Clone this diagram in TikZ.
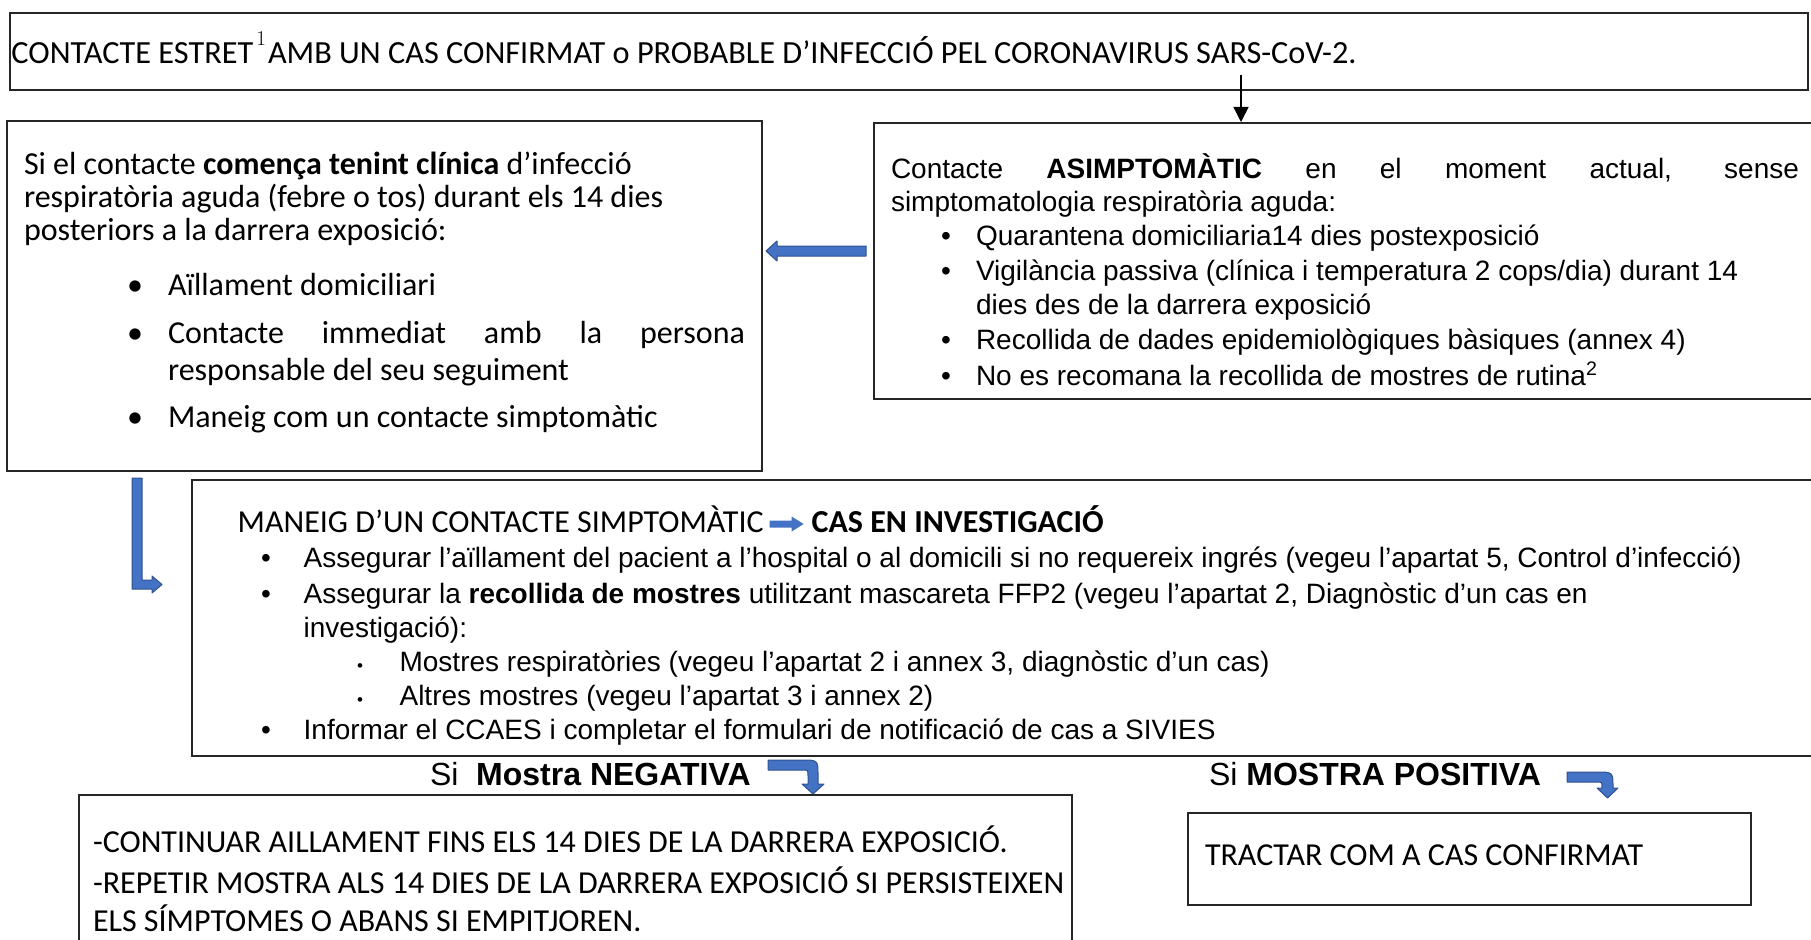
\documentclass[tikz,border=0pt]{standalone}
\usepackage{fontspec}
\newfontfamily\calib{Carlito}
\newfontfamily\arial{Liberation Sans}
\usetikzlibrary{arrows.meta,calc}
\definecolor{bfill}{RGB}{68,114,196}
\definecolor{bline}{RGB}{47,82,143}
\tikzset{
  box/.style={draw=black!85, line width=1.8pt, rectangle, inner sep=0pt, anchor=north west},
  txt/.style={anchor=base west, inner sep=0pt, outer sep=0pt},
  cb/.style={txt, font=\calib\fontsize{32}{38}\selectfont},
  ct/.style={txt, font=\calib\fontsize{32.3}{38}\selectfont},
  ab/.style={txt, font=\arial\fontsize{28}{32}\selectfont},
  al/.style={txt, font=\arial\fontsize{32}{36}\selectfont},
  blk/.style={fill=bfill, draw=bline, line width=1pt, line join=round},
}
\begin{document}
\begin{tikzpicture}[x=1pt,y=-1pt]
\useasboundingbox (0,0) rectangle (1811,939);
% boxes
\node[box, minimum width=1798pt, minimum height=77pt] (top) at (9,12) {};
\node[box, minimum width=755pt, minimum height=350pt] (left) at (6,120) {};
\node[box, minimum width=942pt, minimum height=276pt] (right) at (873,122) {};
\node[box, minimum width=1624pt, minimum height=276pt] (mid) at (191,479) {};
\node[box, minimum width=993pt, minimum height=160pt] (neg) at (78,794) {};
\node[box, minimum width=563pt, minimum height=92pt] (pos) at (1187,812) {};
% top text
\node[ct] (t1) at (11.5,64) {CONTACTE ESTRET\kern3pt\raisebox{18pt}{\rmfamily\fontsize{21}{21}\selectfont 1}\kern2pt AMB UN CAS CONFIRMAT o PROBABLE D’INFECCIÓ PEL CORONAVIRUS SARS-CoV-2.};
% connector top -> right
\coordinate (a0) at (1241,75);
\draw[line width=1.5pt, -{Triangle[width=15pt,length=15pt]}] (a0) -- (a0 |- right.north);
% left box text
\node[cb] (l1) at (24,174) {Si el contacte \textbf{comença tenint clínica} d’infecció};
\node[cb] (l2) at (24,207.5) {respiratòria aguda (febre o tos) durant els 14 dies};
\node[cb] (l3) at (24,240) {posteriors a la darrera exposició:};
\node[cb] (lb1) at (127,295.5) {\textbullet};
\node[cb] (lb2) at (127,343.5) {\textbullet};
\node[cb] (lb3) at (127,427.5) {\textbullet};
\node[cb] (l4) at (168,295.5) {Aïllament domiciliari};
\node[cb] (l5) at (168,343.5) {\makebox[577pt][s]{Contacte immediat amb la persona}};
\node[cb] (l6) at (168,380) {responsable del seu seguiment};
\node[cb] (l7) at (168,427.5) {Maneig com un contacte simptomàtic};
% right box text
\node[ab] (r1) at (891,178) {\makebox[908pt][s]{Contacte \textbf{ASIMPTOMÀTIC} en el moment actual, sense}};
\node[ab] (r2) at (891,211) {simptomatologia respiratòria aguda:};
\foreach \yy/\nm in {245/rb1,280/rb2,349/rb3,385/rb4} {\node[ab] (\nm) at (941,\yy) {•};}
\node[ab] (r3) at (976,245) {Quarantena domiciliaria14 dies postexposició};
\node[ab] (r4) at (976,280) {Vigilància passiva (clínica i temperatura 2 cops/dia) durant 14};
\node[ab] (r5) at (976,314) {dies des de la darrera exposició};
\node[ab] (r6) at (976,349) {Recollida de dades epidemiològiques bàsiques (annex 4)};
\node[ab] (r7) at (976,385) {No es recomana la recollida de mostres de rutina\textsuperscript{2}};
% blue arrow right -> left
\draw[blk] (766,251) -- (777,241) -- (777,246) -- (866,246) -- (866,256) -- (777,256) -- (777,261) -- cycle;
% L arrow left -> mid
\draw[blk] (132,478) -- (142,478) -- (142,580) -- (152,580) -- (152,576) -- (162,584.5) -- (152,593) -- (152,589) -- (132,589) -- cycle;
% middle box text
\node[cb] (m1) at (237.7,532) {MANEIG D’UN CONTACTE SIMPTOMÀTIC};
\coordinate (ia) at ($(m1.base east)+(6,-8)$);
\fill[bfill] (ia) ++(0,-3.5) -- ++(22,0) -- ++(0,-4) -- ++(12,7.5) -- ++(-12,7.5) -- ++(0,-4) -- ++(-22,0) -- cycle;
\node[cb] (m2) at ($(m1.base east)+(48,0)$) {\textbf{CAS EN INVESTIGACIÓ}};
\foreach \yy/\nm in {567/mb1,603/mb2,739/mb3} {\node[ab] (\nm) at (261,\yy) {•};}
\node[ab] (m3) at (303.7,567) {Assegurar l’aïllament del pacient a l’hospital o al domicili si no requereix ingrés (vegeu l’apartat 5, Control d’infecció)};
\node[ab] (m4) at (303.7,603) {Assegurar la \textbf{recollida de mostres} utilitzant mascareta FFP2 (vegeu l’apartat 2, Diagnòstic d’un cas en};
\node[ab] (m5) at (303.7,637) {investigació):};
\node[ab, font=\arial\fontsize{17}{20}\selectfont] (ms1) at (357,671) {•};
\node[ab, font=\arial\fontsize{17}{20}\selectfont] (ms2) at (357,705) {•};
\node[ab] (m6) at (399.6,671) {Mostres respiratòries (vegeu l’apartat 2 i annex 3, diagnòstic d’un cas)};
\node[ab] (m7) at (399.6,705) {Altres mostres (vegeu l’apartat 3 i annex 2)};
\node[ab] (m8) at (303.7,739) {Informar el CCAES i completar el formulari de notificació de cas a SIVIES};
% labels
\node[al] (sn) at (430,785) {Si \ \textbf{Mostra NEGATIVA}};
\node[al] (sp) at (1209,785) {Si \textbf{MOSTRA POSITIVA}};
% bent arrows
\draw[blk] (768,760) -- (802,760) .. controls (818,760) .. (818,776) -- (818,784) -- (824,784) -- (813,794) -- (802,784) -- (808,784) -- (808,776) .. controls (808,770) .. (802,770) -- (768,770) -- cycle;
\draw[blk] (1567,772) -- (1597,772) .. controls (1613,772) .. (1613,788) -- (1618,788) -- (1607.5,798) -- (1597,788) -- (1602,788) .. controls (1602,782) .. (1597,782) -- (1567,782) -- cycle;
% negative text
\node[cb] (n1) at (93,852) {-CONTINUAR AILLAMENT FINS ELS 14 DIES DE LA DARRERA EXPOSICIÓ.};
\node[cb] (n2) at (93,893) {-REPETIR MOSTRA ALS 14 DIES DE LA DARRERA EXPOSICIÓ SI PERSISTEIXEN};
\node[cb] (n3) at (93,931) {ELS SÍMPTOMES O ABANS SI EMPITJOREN.};
% positive text
\node[cb] (p1) at (1205,865) {TRACTAR COM A CAS CONFIRMAT};
\end{tikzpicture}
\end{document}
